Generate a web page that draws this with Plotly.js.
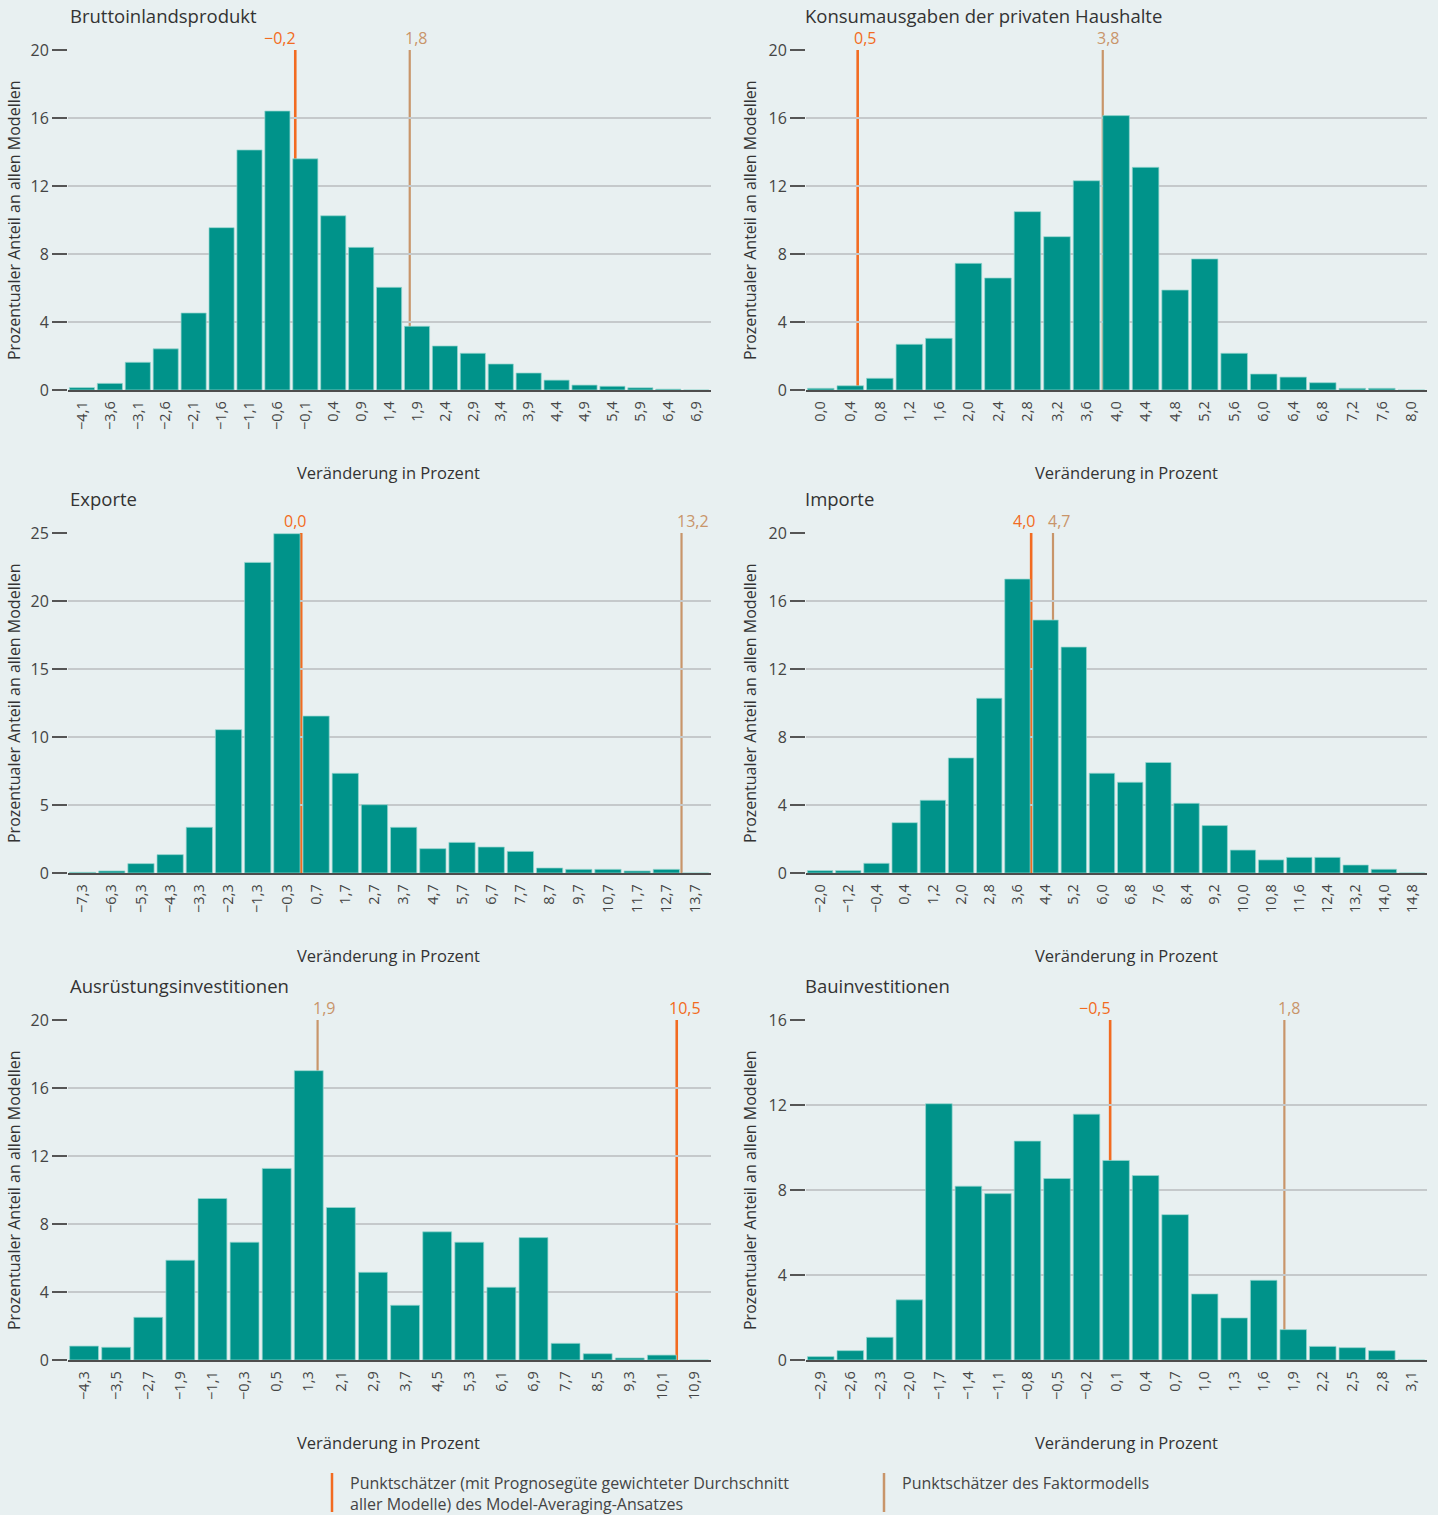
<!DOCTYPE html>
<html>
<head>
<meta charset="utf-8">
<script src="https://cdn.plot.ly/plotly-3.0.1.min.js"></script>
<style>html,body{margin:0;padding:0;background:#e8f0f1;}</style>
</head>
<body>
<div id="chart" style="width:1438px;height:1515px;"></div>
<script>
// ---------------- DATA ----------------
const panelTitles = ['Bruttoinlandsprodukt', 'Konsumausgaben der privaten Haushalte', 'Exporte', 'Importe', 'Ausrüstungsinvestitionen', 'Bauinvestitionen'];

const bipBins   = [-4.1, -3.6, -3.1, -2.6, -2.1, -1.6, -1.1, -0.6, -0.1, 0.4, 0.9, 1.4, 1.9, 2.4, 2.9, 3.4, 3.9, 4.4, 4.9, 5.4, 5.9, 6.4, 6.9];
const bipShares = [0.14, 0.39, 1.63, 2.42, 4.53, 9.55, 14.12, 16.41, 13.6, 10.25, 8.39, 6.04, 3.75, 2.59, 2.16, 1.53, 1.0, 0.58, 0.29, 0.22, 0.13, 0.05, 0];

const konBins   = [0.0, 0.4, 0.8, 1.2, 1.6, 2.0, 2.4, 2.8, 3.2, 3.6, 4.0, 4.4, 4.8, 5.2, 5.6, 6.0, 6.4, 6.8, 7.2, 7.6, 8.0];
const konShares = [0.1, 0.25, 0.69, 2.69, 3.04, 7.45, 6.59, 10.49, 9.02, 12.31, 16.14, 13.1, 5.88, 7.71, 2.16, 0.94, 0.76, 0.43, 0.1, 0.1, 0];

const expBins   = [-7.3, -6.3, -5.3, -4.3, -3.3, -2.3, -1.3, -0.3, 0.7, 1.7, 2.7, 3.7, 4.7, 5.7, 6.7, 7.7, 8.7, 9.7, 10.7, 11.7, 12.7, 13.7];
const expShares = [0.05, 0.15, 0.69, 1.35, 3.36, 10.54, 22.84, 24.95, 11.54, 7.33, 5.02, 3.36, 1.79, 2.25, 1.91, 1.59, 0.37, 0.27, 0.27, 0.15, 0.27, 0];

const impBins   = [-2.0, -1.2, -0.4, 0.4, 1.2, 2.0, 2.8, 3.6, 4.4, 5.2, 6.0, 6.8, 7.6, 8.4, 9.2, 10.0, 10.8, 11.6, 12.4, 13.2, 14.0, 14.8];
const impShares = [0.14, 0.14, 0.57, 2.96, 4.28, 6.77, 10.28, 17.29, 14.88, 13.29, 5.87, 5.34, 6.5, 4.1, 2.79, 1.35, 0.77, 0.92, 0.92, 0.47, 0.22, 0];

const ausBins   = [-4.3, -3.5, -2.7, -1.9, -1.1, -0.3, 0.5, 1.3, 2.1, 2.9, 3.7, 4.5, 5.3, 6.1, 6.9, 7.7, 8.5, 9.3, 10.1, 10.9];
const ausShares = [0.82, 0.75, 2.51, 5.87, 9.5, 6.93, 11.27, 17.02, 8.97, 5.16, 3.22, 7.54, 6.93, 4.28, 7.2, 0.98, 0.37, 0.12, 0.29, 0];

const bauBins   = [-2.9, -2.6, -2.3, -2.0, -1.7, -1.4, -1.1, -0.8, -0.5, -0.2, 0.1, 0.4, 0.7, 1.0, 1.3, 1.6, 1.9, 2.2, 2.5, 2.8, 3.1];
const bauShares = [0.16, 0.44, 1.07, 2.83, 12.06, 8.18, 7.83, 10.3, 8.54, 11.57, 9.39, 8.68, 6.84, 3.11, 1.98, 3.75, 1.43, 0.64, 0.58, 0.44, 0];

// point estimates: Model-Averaging (orange) and factor model (tan); label value and drawn position
const maLabels    = [-0.2, 0.5, 0.0, 4.0, 10.5, -0.5];
const maPositions = [-0.28, 0.5, 0.19, 3.99, 10.47, 0.04];
const fmLabels    = [1.8, 3.8, 13.2, 4.7, 1.9, 1.8];
const fmPositions = [1.77, 3.82, 13.22, 4.61, 1.52, 1.81];

const yMaxima = [20, 20, 25, 20, 20, 16];
const yTickSteps = [4, 4, 5, 4, 4, 4];

const xAxisTitle = 'Veränderung in Prozent';
const yAxisTitle = 'Prozentualer Anteil an allen Modellen';
const legendMA = 'Punktschätzer (mit Prognosegüte gewichteter Durchschnitt<br>aller Modelle) des Model-Averaging-Ansatzes';
const legendFM = 'Punktschätzer des Faktormodells';

// ---------------- STYLE / LAYOUT ----------------
const W = 1438, H = 1515;
const BG = '#e8f0f1', TEAL = '#00938a', ORANGE = '#f26b21', TAN = '#c8956a';
const GRID = '#c5c9cb', AXIS = '#4d4d4d', TXT = '#333333';
const FONT = '"Open Sans", "Noto Sans", sans-serif';

const binsList = [bipBins, konBins, expBins, impBins, ausBins, bauBins];
const sharesList = [bipShares, konShares, expShares, impShares, ausShares, bauShares];

const colX = [[68, 711], [806, 1427]];
const rowY = [[50, 390], [533, 873], [1020, 1360]];
const titleY = [16, 499, 986];
const titleX = [68, 803];
const xTitleX = [389, 1126];
const xTitleOffset = 82;
const yTitleX = [14, 750];
const maShift = [-15, 7, -6, -7, 8, -15];
const fmShift = [6, 5, 11, 6, 6, 5];

const px = x => x / W;
const py = y => 1 - y / H;

function fmt(v) {
  const s = Math.abs(v).toFixed(1).replace('.', ',');
  return (v < -1e-9 ? '\u2212' : '') + s;
}

const traces = [];
const layout = {
  width: W, height: H,
  margin: {l: 0, r: 0, t: 0, b: 0},
  paper_bgcolor: BG, plot_bgcolor: BG,
  showlegend: false,
  font: {family: FONT, color: TXT},
  shapes: [], annotations: [],
  bargap: 0
};

for (let i = 0; i < 6; i++) {
  const col = i % 2, row = Math.floor(i / 2);
  const n = i + 1;
  const xa = 'xaxis' + (n === 1 ? '' : n), ya = 'yaxis' + (n === 1 ? '' : n);
  const xr = 'x' + (n === 1 ? '' : n), yr = 'y' + (n === 1 ? '' : n);
  const bins = binsList[i], shares = sharesList[i];
  const step = Math.abs(bins[1] - bins[0]);

  traces.push({
    type: 'bar', x: bins, y: shares, xaxis: xr, yaxis: yr,
    width: bins.map(() => step * 0.9),
    marker: {color: TEAL, line: {color: 'rgba(150,215,208,0.9)', width: 0.8}},
    hoverinfo: 'skip'
  });

  layout[xa] = {
    domain: [px(colX[col][0]), px(colX[col][1])],
    anchor: yr,
    range: [bins[0] - step * 0.5, bins[bins.length - 1] + step * 0.53],
    tickmode: 'array', tickvals: bins, ticktext: bins.map(fmt),
    tickangle: -90, ticks: 'outside', ticklen: 4, tickcolor: 'rgba(0,0,0,0)',
    tickfont: {size: 14.5, color: '#444', family: FONT},
    showgrid: false, zeroline: false,
    showline: true, linecolor: AXIS, linewidth: 1.5,
    fixedrange: true
  };
  layout[ya] = {
    domain: [py(rowY[row][1]), py(rowY[row][0])],
    anchor: xr,
    range: [0, yMaxima[i]],
    tickmode: 'linear', tick0: 0, dtick: yTickSteps[i],
    ticks: 'outside', ticklen: 15, tickwidth: 1.5, tickcolor: '#555',
    tickfont: {size: 16, color: '#444', family: FONT},
    showgrid: true, gridcolor: GRID, gridwidth: 1.2,
    zeroline: false, showline: false, fixedrange: true
  };

  // point-estimate lines (drawn behind the bars)
  [[maPositions[i], maLabels[i], ORANGE, 2.6, maShift[i]], [fmPositions[i], fmLabels[i], TAN, 2.2, fmShift[i]]].forEach(([pos, lab, color, w, sh]) => {
    layout.shapes.push({
      type: 'line', xref: xr, yref: yr, x0: pos, x1: pos, y0: 0, y1: yMaxima[i],
      line: {color: color, width: w}, layer: 'below'
    });
    layout.annotations.push({
      xref: xr, yref: yr, x: pos, y: yMaxima[i], xanchor: 'center', yanchor: 'bottom',
      xshift: sh, yshift: -1, showarrow: false, text: fmt(lab),
      font: {size: 16, color: color, family: FONT}
    });
  });

  // panel title
  layout.annotations.push({
    xref: 'paper', yref: 'paper', x: px(titleX[col]), y: py(titleY[row]),
    xanchor: 'left', yanchor: 'middle', showarrow: false, text: panelTitles[i],
    font: {size: 18.5, color: TXT, family: FONT}
  });
  // x axis title
  layout.annotations.push({
    xref: 'paper', yref: 'paper', x: px(xTitleX[col]), y: py(rowY[row][1] + xTitleOffset),
    xanchor: 'center', yanchor: 'middle', showarrow: false, text: xAxisTitle,
    font: {size: 16.5, color: TXT, family: FONT}
  });
  // y axis title
  layout.annotations.push({
    xref: 'paper', yref: 'paper', x: px(yTitleX[col]), y: py((rowY[row][0] + rowY[row][1]) / 2),
    xanchor: 'center', yanchor: 'middle', showarrow: false, textangle: -90, text: yAxisTitle,
    font: {size: 16, color: TXT, family: FONT}
  });
}

// legend
layout.shapes.push({type: 'line', xref: 'paper', yref: 'paper', x0: px(332), x1: px(332), y0: py(1473), y1: py(1512), line: {color: ORANGE, width: 2.5}});
layout.shapes.push({type: 'line', xref: 'paper', yref: 'paper', x0: px(884), x1: px(884), y0: py(1473), y1: py(1512), line: {color: TAN, width: 2.5}});
layout.annotations.push({xref: 'paper', yref: 'paper', x: px(348), y: py(1493), xanchor: 'left', yanchor: 'middle', align: 'left', showarrow: false, text: legendMA, font: {size: 16, color: '#444', family: FONT}});
layout.annotations.push({xref: 'paper', yref: 'paper', x: px(900), y: py(1483), xanchor: 'left', yanchor: 'middle', align: 'left', showarrow: false, text: legendFM, font: {size: 16, color: '#444', family: FONT}});

Plotly.newPlot('chart', traces, layout, {staticPlot: true, displayModeBar: false});
</script>
</body>
</html>
